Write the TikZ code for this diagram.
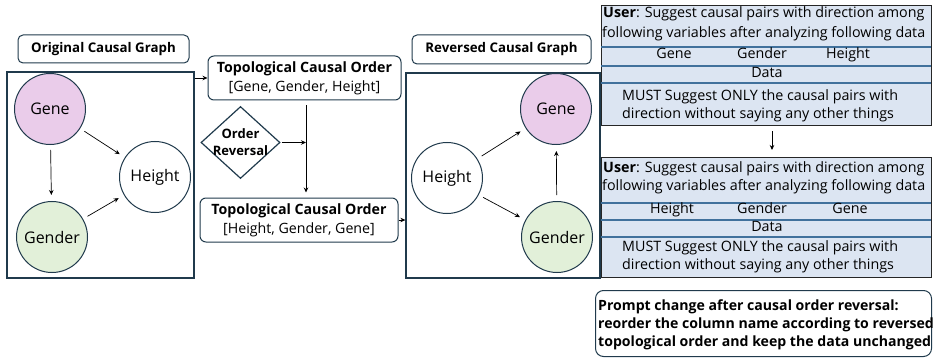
\documentclass[tikz,border=0pt]{standalone}
\usepackage{fontspec}
\setmainfont{Open Sans}
\usetikzlibrary{shapes.geometric,arrows.meta}
\definecolor{frameC}{HTML}{203A4C}
\definecolor{geneC}{HTML}{EACCEA}
\definecolor{genderC}{HTML}{E2F0D9}
\definecolor{promptC}{HTML}{DCE5F2}
\definecolor{rowC}{HTML}{41719C}
\tikzset{
  bigframe/.style={draw=frameC, line width=1.3pt, rectangle, inner sep=0pt},
  titlebox/.style={draw=frameC, line width=1pt, rounded corners=5pt, rectangle, inner sep=0pt, font=\fontsize{13.3}{16}\selectfont\bfseries},
  topobox/.style={draw=frameC, line width=1pt, rounded corners=6pt, rectangle, inner sep=0pt, align=center, font=\fontsize{14.2}{19}\selectfont},
  circ/.style={circle, draw=frameC, line width=1pt, minimum size=71pt, inner sep=0pt, font=\fontsize{16}{18}\selectfont},
  arr/.style={-{Stealth[length=5pt,width=4.5pt]}, line width=0.7pt, black},
  revbox/.style={diamond, draw=frameC, line width=1.2pt, minimum width=79pt, minimum height=72pt, inner sep=0pt},
  revtext/.style={inner sep=0pt, align=center, font=\fontsize{13}{17}\selectfont\bfseries},
  promptbox/.style={rectangle, draw=black!85, line width=1.2pt, fill=promptC, inner sep=0pt, anchor=north west},
  rowline/.style={draw=rowC, line width=1.1pt},
  ptext/.style={inner sep=0pt, text height=0.72em, text depth=0.22em, font=\fontsize{14.3}{18}\selectfont},
  notebox/.style={draw=frameC, line width=1pt, rounded corners=8pt, rectangle, inner sep=0pt, anchor=north west},
  notetext/.style={inner sep=0pt, anchor=west, align=left, text height=0.72em, text depth=0.22em, font=\fontsize{14.1}{18}\selectfont\bfseries}
}
\begin{document}
\begin{tikzpicture}[x=1pt,y=-1pt]
\useasboundingbox (0,0) rectangle (933,358);
% ---------- original graph ----------
\node[titlebox, minimum width=171pt, minimum height=28pt] (t1) at (103.5,49) {Original Causal Graph};
\node[bigframe, minimum width=187pt, minimum height=206pt] (f1) at (100.5,175) {};
\node[circ, fill=geneC] (ogene) at (50,109) {Gene};
\node[circ, fill=genderC] (ogender) at (52,237) {Gender};
\node[circ, fill=white] (oheight) at (155,177) {Height};
\draw[arr, shorten <=5pt, shorten >=6pt] (ogene) -- (ogender);
\draw[arr, shorten <=5pt, shorten >=6pt] (ogene) -- (oheight);
\draw[arr, shorten <=5pt, shorten >=6pt] (ogender) -- (oheight);
% ---------- topological orders ----------
\node[topobox, minimum width=193pt, minimum height=44pt] (topo1) at (304.5,78) {\textbf{Topological Causal Order}\\{}[Gene, Gender, Height]};
\node[topobox, minimum width=198pt, minimum height=44pt] (topo2) at (299,220) {\textbf{Topological Causal Order}\\{}[Height, Gender, Gene]};
\node[revbox] (rev) at (240.5,142.5) {};
\node[revtext] (revt) at (rev.center) {Order\\Reversal};
\coordinate (vx) at (306,0);
\draw[arr] (topo1.west -| f1.east) -- (topo1.west);
\draw[arr, shorten <=5pt, shorten >=5pt] (topo1.south -| vx) -- (topo2.north -| vx);
\draw[arr, shorten <=1pt] (rev.east) -- (rev.east -| vx);
% ---------- reversed graph ----------
\node[titlebox, minimum width=179pt, minimum height=29pt] (t2) at (501.5,49.5) {Reversed Causal Graph};
\node[bigframe, minimum width=194pt, minimum height=205pt] (f2) at (503,175.5) {};
\draw[arr] (topo2.east) -- (topo2.east -| f2.west);
\node[circ, fill=geneC] (rgene) at (556,109) {Gene};
\node[circ, fill=white] (rheight) at (447,178) {Height};
\node[circ, fill=genderC] (rgender) at (557,237) {Gender};
\draw[arr, shorten <=5pt, shorten >=6pt] (rheight) -- (rgene);
\draw[arr, shorten <=5pt, shorten >=6pt] (rheight) -- (rgender);
\draw[arr, shorten <=6pt, shorten >=6pt] (rgender) -- (rgene);
% ---------- prompt 1 ----------
\node[promptbox, minimum width=330pt, minimum height=120pt] (p1) at (601,5) {};
\draw[rowline] (601,47) -- (931,47);
\draw[rowline] (601,66) -- (931,66);
\draw[rowline] (601,83) -- (931,83);
\node[ptext, anchor=west] (p1a) at (603,15) {\textbf{User}: Suggest causal pairs with direction among};
\node[ptext, anchor=west] (p1b) at (602,35) {following variables after analyzing following data};
\node[ptext] (p1c1) at (674,56.5) {Gene};
\node[ptext] (p1c2) at (762,56.5) {Gender};
\node[ptext] (p1c3) at (848,56.5) {Height};
\node[ptext] (p1d) at (767,75) {Data};
\node[ptext, anchor=west] (p1e) at (622,98) {MUST Suggest ONLY the causal pairs with};
\node[ptext, anchor=west] (p1f) at (622,116) {direction without saying any other things};
% ---------- prompt 2 ----------
\node[promptbox, minimum width=330pt, minimum height=120pt] (p2) at (601,157) {};
\draw[rowline] (601,203) -- (931,203);
\draw[rowline] (601,220) -- (931,220);
\draw[rowline] (601,237) -- (931,237);
\node[ptext, anchor=west] (p2a) at (603,170) {\textbf{User}: Suggest causal pairs with direction among};
\node[ptext, anchor=west] (p2b) at (602,188) {following variables after analyzing following data};
\node[ptext] (p2c1) at (672,210.5) {Height};
\node[ptext] (p2c2) at (762,210.5) {Gender};
\node[ptext] (p2c3) at (850,210.5) {Gene};
\node[ptext] (p2d) at (767,228.5) {Data};
\node[ptext, anchor=west] (p2e) at (622,249) {MUST Suggest ONLY the causal pairs with};
\node[ptext, anchor=west] (p2f) at (622,267) {direction without saying any other things};
\coordinate (ax) at (772,0);
\draw[arr, shorten <=5pt, shorten >=7pt] (p1.south -| ax) -- (p2.north -| ax);
% ---------- note ----------
\node[notebox, minimum width=336pt, minimum height=66pt] (note) at (595,290) {};
\node[notetext] (nt1) at (598,308) {Prompt change after causal order reversal:};
\node[notetext] (nt2) at (598,326) {reorder the column name according to reversed};
\node[notetext] (nt3) at (598,344) {topological order and keep the data unchanged};
\end{tikzpicture}
\end{document}
